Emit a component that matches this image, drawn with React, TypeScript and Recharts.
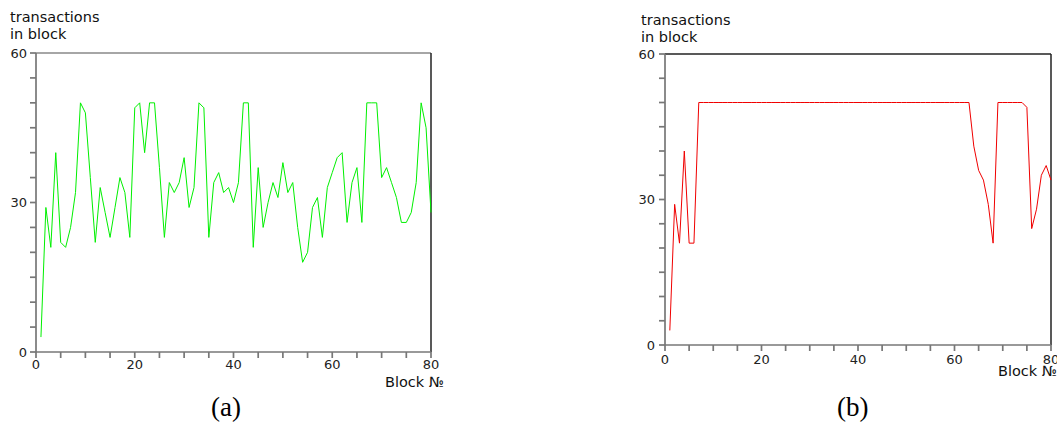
import { LineChart, Line, XAxis, YAxis, ReferenceLine } from 'recharts'

// transactions per block, blocks 1..80
const txA = [
  3, 29, 21, 40, 22, 21, 25, 32, 50, 48,
  35, 22, 33, 28, 23, 29, 35, 32, 23, 49,
  50, 40, 50, 50, 37, 23, 34, 32, 34, 39,
  29, 33, 50, 49, 23, 34, 36, 32, 33, 30,
  34, 50, 50, 21, 37, 25, 30, 34, 31, 38,
  32, 34, 25, 18, 20, 29, 31, 23, 33, 36,
  39, 40, 26, 34, 37, 26, 50, 50, 50, 35,
  37, 34, 31, 26, 26, 28, 34, 50, 45, 28,
]

const txB = [
  3, 29, 21, 40, 21, 21, 50, 50, 50, 50,
  50, 50, 50, 50, 50, 50, 50, 50, 50, 50,
  50, 50, 50, 50, 50, 50, 50, 50, 50, 50,
  50, 50, 50, 50, 50, 50, 50, 50, 50, 50,
  50, 50, 50, 50, 50, 50, 50, 50, 50, 50,
  50, 50, 50, 50, 50, 50, 50, 50, 50, 50,
  50, 50, 50, 41, 36, 34, 29, 21, 50, 50,
  50, 50, 50, 50, 49, 24, 28, 35, 37, 34,
]

const xTicks = [0, 5, 10, 15, 20, 25, 30, 35, 40, 45, 50, 55, 60, 65, 70, 75, 80]
const yTicks = [0, 5, 10, 15, 20, 25, 30, 35, 40, 45, 50, 55, 60]
const xLabels = [0, 20, 40, 60, 80]
const yLabels = [0, 30, 60]

const rowsA = txA.map((v, i) => ({ block: i + 1, tx: v }))
const rowsB = txB.map((v, i) => ({ block: i + 1, tx: v }))

const axisGray = '#777'
const text = { position: 'absolute' as const, fontFamily: 'DejaVu Sans', fontSize: 14.5, color: '#111', lineHeight: '17px', whiteSpace: 'nowrap' as const }

type PanelProps = {
  data: { block: number; tx: number }[]
  color: string
  left: number
  width: number
  margin: { top: number; right: number; bottom: number; left: number }
  xMargin: number
  yMargin: number
  topColor: string
}

function Panel({ data, color, left, width, margin, xMargin, yMargin, topColor }: PanelProps) {
  return (
    <div style={{ position: 'absolute', left, top: 0 }}>
      <LineChart width={width} height={400} data={data} margin={margin}>
        <XAxis
          dataKey="block"
          type="number"
          domain={[0, 80]}
          ticks={xTicks}
          interval={0}
          height={30}
          stroke={axisGray}
          strokeWidth={1.7}
          tickSize={6}
          tickMargin={xMargin}
          tickLine={{ stroke: axisGray }}
          tick={{ fill: '#222', fontSize: 13 }}
          tickFormatter={(v: number) => (xLabels.includes(v) ? String(v) : '')}
        />
        <YAxis
          type="number"
          domain={[0, 60]}
          ticks={yTicks}
          interval={0}
          width={30}
          stroke={axisGray}
          strokeWidth={1.7}
          tickSize={6}
          tickMargin={yMargin}
          tickLine={{ stroke: axisGray }}
          tick={{ fill: '#222', fontSize: 13 }}
          tickFormatter={(v: number) => (yLabels.includes(v) ? String(v) : '')}
        />
        <ReferenceLine y={60} stroke={topColor} strokeWidth={1.5} />
        <ReferenceLine x={80} stroke="#222" strokeWidth={1.5} />
        <Line dataKey="tx" stroke={color} strokeWidth={1} dot={false} isAnimationActive={false} />
      </LineChart>
    </div>
  )
}

export default function App() {
  return (
    <div style={{ position: 'absolute', left: 0, top: 0, width: 1057, height: 433, background: '#fff', overflow: 'hidden', fontFamily: 'DejaVu Sans' }}>
      <Panel
        data={rowsA}
        color="#00f000"
        left={0}
        width={450}
        margin={{ top: 53, right: 19, bottom: 18, left: 6 }}
        xMargin={2}
        yMargin={3}
        topColor="#888"
      />
      <Panel
        data={rowsB}
        color="#f00000"
        left={620}
        width={437}
        margin={{ top: 54, right: 6, bottom: 25, left: 15 }}
        xMargin={4}
        yMargin={4}
        topColor="#222"
      />
      <div style={{ ...text, left: 10, top: 9 }}>transactions<br />in block</div>
      <div style={{ ...text, left: 641, top: 12 }}>transactions<br />in block</div>
      <div style={{ ...text, left: 385, top: 374 }}>Block №</div>
      <div style={{ ...text, left: 998, top: 363 }}>Block №</div>
      <div style={{ position: 'absolute', left: 211, top: 392, fontFamily: 'Liberation Serif', fontSize: 27, color: '#000' }}>(a)</div>
      <div style={{ position: 'absolute', left: 837, top: 392, fontFamily: 'Liberation Serif', fontSize: 27, color: '#000' }}>(b)</div>
    </div>
  )
}
